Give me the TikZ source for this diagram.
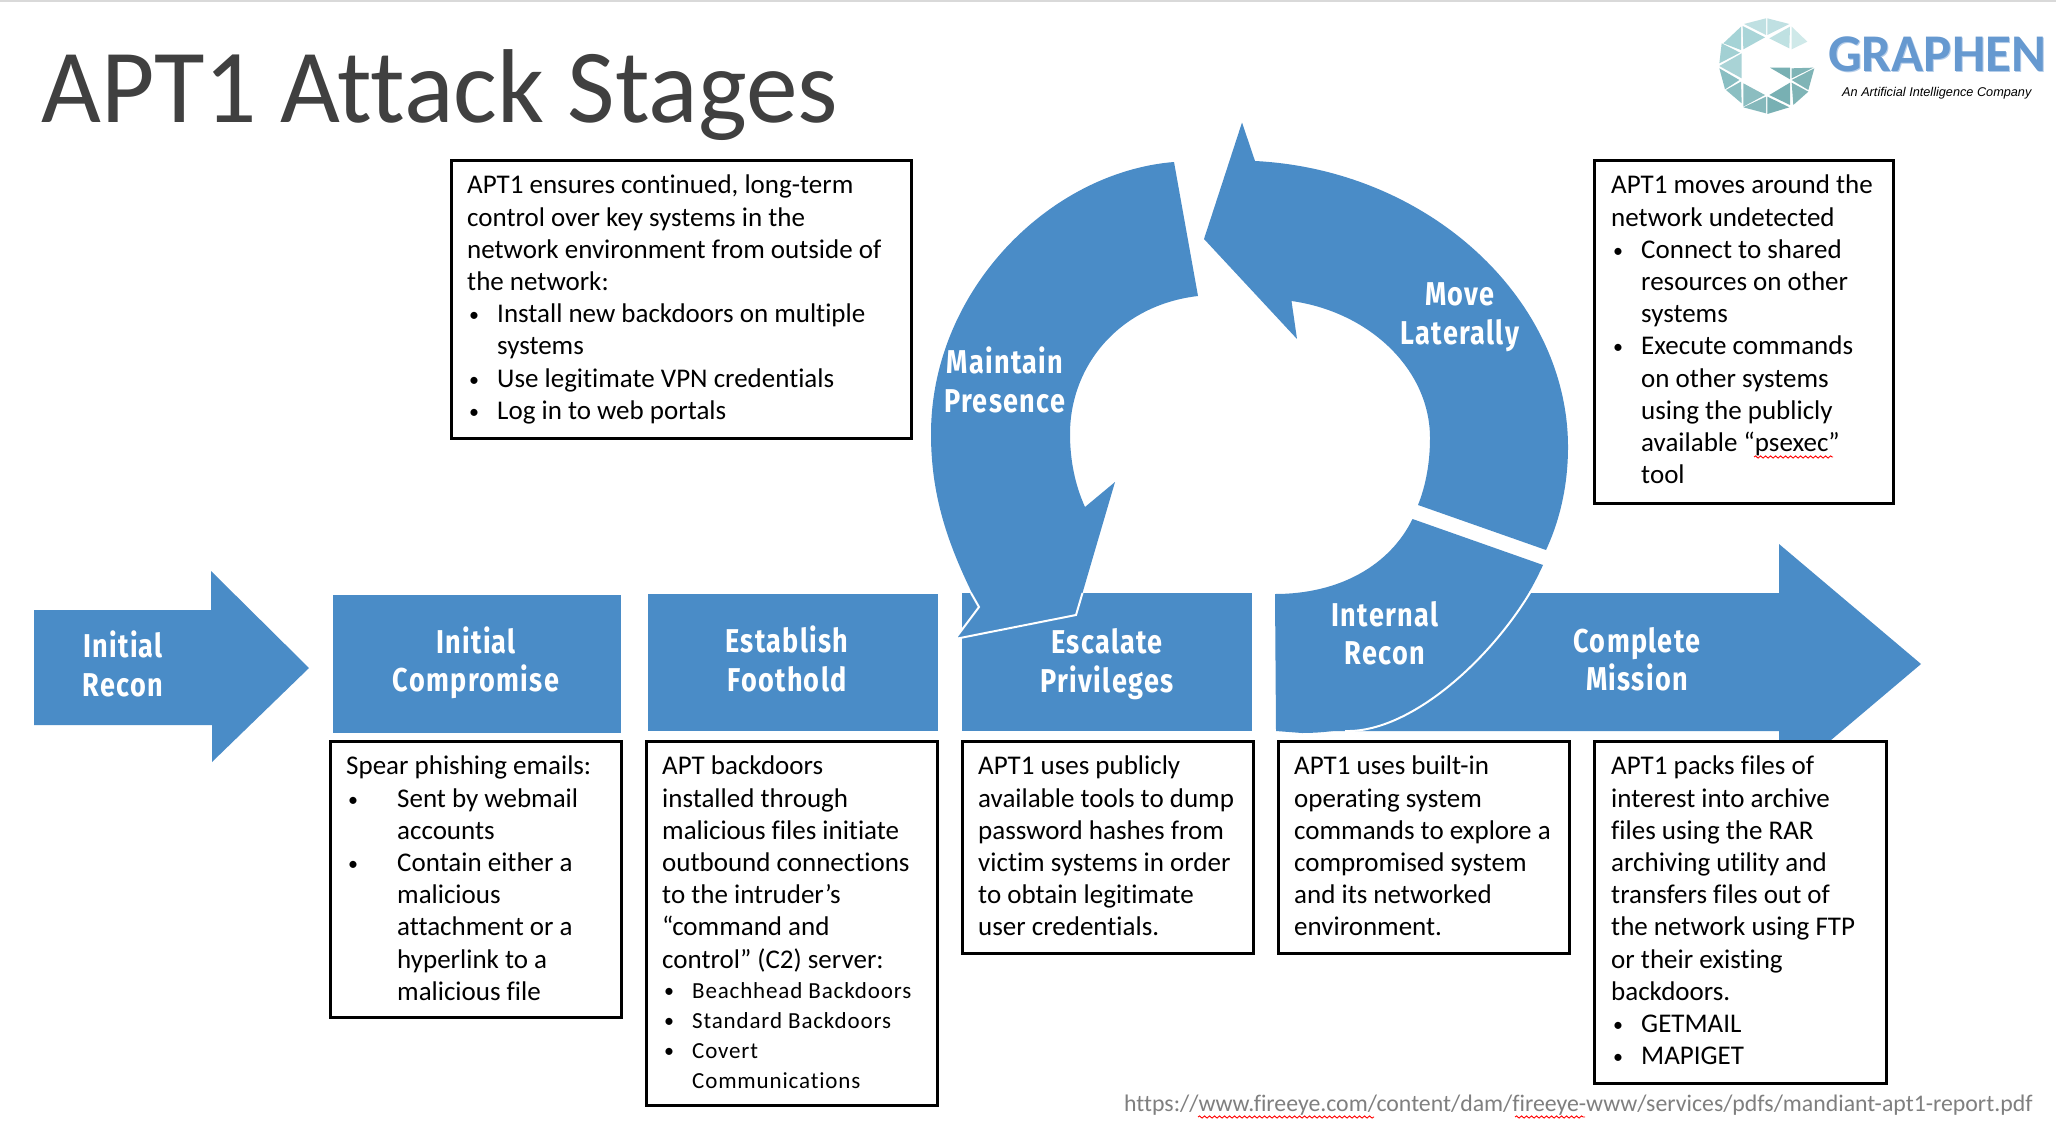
\documentclass[tikz,border=0pt]{standalone}
\usepackage{fontspec}
\usetikzlibrary{decorations.pathmorphing}
\setmainfont[Ligatures=NoCommon]{Carlito}
\newfontfamily\hdrfont[FakeStretch=0.82,LetterSpace=4]{Fira Sans}
\newfontfamily\spacedfont[LetterSpace=3.7,Ligatures=NoCommon]{Carlito}
\newfontfamily\titlefont[FakeStretch=0.985,Ligatures=NoCommon]{Carlito}
\newfontfamily\tagfont{Liberation Sans}
\definecolor{bluefill}{HTML}{4A8CC7}
\definecolor{titlegray}{HTML}{404040}
\definecolor{urlgray}{HTML}{7F7F7F}
\definecolor{logoblue}{HTML}{6699D0}
\definecolor{logoglow}{HTML}{B5CDE9}
\newcommand{\blt}[1][30]{\makebox[#1pt][l]{\hspace*{2pt}{\fontsize{20}{20}\selectfont\raisebox{1pt}{\textbullet}}}}
\newcommand{\ind}[1][30]{\hspace*{#1pt}}
\tikzset{
  plainblue/.style={fill=bluefill,draw=none},
  whiteedge/.style={draw=white,line width=2pt,line join=miter},
  hdr/.style={text=white,align=center,inner sep=0pt,font=\hdrfont\bfseries\fontsize{33}{38.5}\selectfont},
  infobox/.style={draw=black,fill=white,line width=3pt,anchor=north west,inner sep=0pt,outer sep=0pt},
  infotext/.style={anchor=north west,inner sep=0pt,align=left,text=black,font=\fontsize{27}{32.2}\selectfont},
  squig/.style={draw=red,line width=0.9pt,decorate,decoration={snake,amplitude=1.1pt,segment length=5pt}}
}
\begin{document}
\begin{tikzpicture}[x=1pt,y=-1pt]
\useasboundingbox (0,0) rectangle (2056,1124);
\fill[white] (0,0) rectangle (2056,1124);
\fill[black!15] (0,0) rectangle (2056,2);
% title
\node[anchor=base west,inner sep=0pt,text=titlegray,font=\titlefont\fontsize{105}{116}\selectfont] (title) at (41,122) {APT1 Attack Stages};
% logo
\begin{scope}[shift={(1680,0)},x=0.3333pt,y=-0.3333pt]
\foreach \c/\p in {
 BFE0E2/{(192,72)--(258,55)--(258,105)},
 BFE0E2/{(262,55)--(328,72)--(262,105)},
 BFE1E2/{(330,80)--(268,115)--(328,145)},
 CFE9E9/{(335,80)--(382,125)--(335,148)},
 A9D5D8/{(188,78)--(255,112)--(190,148)},
 A5D3D6/{(183,80)--(130,130)--(183,150)},
 A2D0D3/{(125,130)--(180,158)--(118,190)},
 A9D3D6/{(118,198)--(185,160)--(185,235)},
 89BEC2/{(118,205)--(178,240)--(135,268)},
 8BBFC2/{(138,270)--(183,245)--(185,310)},
 8BBDC0/{(190,250)--(255,285)--(190,320)},
 85B8BB/{(190,322)--(258,290)--(258,340)},
 78B0B3/{(262,290)--(328,322)--(262,342)},
 78B0B3/{(268,285)--(330,248)--(330,315)},
 7FB4B6/{(335,248)--(385,275)--(340,315)},
 7FB4B6/{(335,240)--(403,205)--(385,270)},
 7FB4B6/{(335,205)--(400,203)--(335,235)},
 78B0B3/{(270,203)--(330,203)--(330,238)}}{
  \definecolor{tc}{HTML}{\c}
  \fill[tc] \p --cycle;
}
\end{scope}
\node[anchor=base west,inner sep=0pt,text=logoglow,font=\bfseries\fontsize{53}{53}\selectfont] (graphenglow) at (1829,73) {GRAPHEN};
\node[anchor=base west,inner sep=0pt,text=logoblue,font=\bfseries\fontsize{53}{53}\selectfont] (graphen) at (1828,72) {GRAPHEN};
\node[anchor=base west,inner sep=0pt,text=black,font=\tagfont\itshape\fontsize{12.7}{16}\selectfont] (tagline) at (1842,96) {An Artificial Intelligence Company};
% stage shapes
\fill[plainblue] (34,610) -- (211,610) -- (211,571) -- (309,668) -- (212,762) -- (212,725) -- (34,725) -- cycle;
\node[plainblue,anchor=north west,minimum width=288pt,minimum height=138pt,inner sep=0pt] (rcomp) at (333,595) {};
\node[plainblue,anchor=north west,minimum width=290pt,minimum height=137pt,inner sep=0pt] (rfoot) at (648,594) {};
\node[plainblue,anchor=north west,minimum width=290pt,minimum height=138pt,inner sep=0pt] (resc) at (962,593) {};
% complete mission arrow
\fill[plainblue] (1300,593) -- (1779,593) -- (1779,544) -- (1921,664) -- (1779,784) -- (1779,731) -- (1300,731) -- cycle;
% internal recon
\fill[plainblue] (1275,594) .. controls (1340,594) and (1390,565) .. (1412.5,519) -- (1543,565) .. controls (1500,660) and (1410,733) .. (1302,733) -- (1276,731) -- cycle;
\draw[whiteedge] (1531,591) .. controls (1490,660) and (1410,733) .. (1345,731);
% maintain presence
\fill[plainblue] (1174,162) .. controls (1050,172) and (931,290) .. (931,434) .. controls (931,500) and (950,550) .. (979,607) -- (955,639) -- (1076,615) -- (1115,482) -- (1085,507) .. controls (1075,485) and (1070,460) .. (1070,434) .. controls (1070,365) and (1120,305) .. (1198,296) -- cycle;
\draw[whiteedge] (971,593) -- (979,607) -- (955,639) -- (1076,615) -- (1082.5,593);
% move laterally
\fill[plainblue] (1242,122.5) -- (1255,161) .. controls (1430,170) and (1568,300) .. (1568,447) .. controls (1568,485) and (1560,520) .. (1546,550) -- (1418,505) .. controls (1426,485) and (1430,462) .. (1430,438) .. controls (1430,370) and (1370,312) .. (1291.5,301) -- (1297,339) -- (1204,239) -- cycle;
% headers
\node[hdr] (hrecon) at (123,664) {Initial\\Recon};
\node[hdr] (hcomp) at (476,663) {Initial\\Compromise};
\node[hdr] (hfoot) at (787,659) {Establish\\Foothold};
\node[hdr] (hesc) at (1107,664) {Escalate\\Privileges};
\node[hdr] (hint) at (1385,633) {Internal\\Recon};
\node[hdr] (hmis) at (1637,659) {Complete\\Mission};
\node[hdr] (hmov) at (1460,317) {Move\\Laterally};
\node[hdr] (hmai) at (1005,380) {Maintain\\Presence};
% boxes
\node[infobox,minimum width=460pt,minimum height=278pt] (btop1) at (451,160) {};
\node[infobox,minimum width=299pt,minimum height=343pt] (btop2) at (1594,160) {};
\node[infobox,minimum width=291pt,minimum height=276pt] (b1) at (330,741) {};
\node[infobox,minimum width=291pt,minimum height=364pt] (b2) at (646,741) {};
\node[infobox,minimum width=291pt,minimum height=212pt] (b3) at (962,741) {};
\node[infobox,minimum width=291pt,minimum height=212pt] (b4) at (1278,741) {};
\node[infobox,minimum width=292pt,minimum height=342pt] (b5) at (1594,741) {};
\node[infotext] (ttop1) at (467,175) {APT1 ensures continued, long-term\\control over key systems in the\\network environment from outside of\\the network:\\\blt Install new backdoors on multiple\\\ind systems\\\blt Use legitimate VPN credentials\\\blt Log in to web portals};
\node[infotext] (ttop2) at (1611,175) {APT1 moves around the\\network undetected\\\blt Connect to shared\\\ind resources on other\\\ind systems\\\blt Execute commands\\\ind on other systems\\\ind using the publicly\\\ind available “psexec”\\\ind tool};
\node[infotext] (t1) at (346,756) {Spear phishing emails:\\\blt[51]Sent by webmail\\\ind[51]accounts\\\blt[51]Contain either a\\\ind[51]malicious\\\ind[51]attachment or a\\\ind[51]hyperlink to a\\\ind[51]malicious file};
\node[infotext] (t2) at (662,756) {APT backdoors\\installed through\\malicious files initiate\\outbound connections\\to the intruder’s\\“command and\\control” (C2) server:};
\node[infotext,font=\spacedfont\fontsize{23}{30}\selectfont] (t2b) at (662,982) {\blt Beachhead Backdoors\\\blt Standard Backdoors\\\blt Covert\\\ind Communications};
\node[infotext] (t3) at (978,756) {APT1 uses publicly\\available tools to dump\\password hashes from\\victim systems in order\\to obtain legitimate\\user credentials.};
\node[infotext] (t4) at (1294,756) {APT1 uses built-in\\operating system\\commands to explore a\\compromised system\\and its networked\\environment.};
\node[infotext] (t5) at (1611,756) {APT1 packs files of\\interest into archive\\files using the RAR\\archiving utility and\\transfers files out of\\the network using FTP\\or their existing\\backdoors.\\\blt GETMAIL\\\blt MAPIGET};
% url
\node[anchor=base west,inner sep=0pt,text=urlgray,font=\fontsize{23.8}{28}\selectfont] (url) at (1124,1111) {https://www.fireeye.com/content/dam/fireeye-www/services/pdfs/mandiant-apt1-report.pdf};
\coordinate (sq1a) at (1754,457); \coordinate (sq1b) at (1833,457);
\coordinate (sq2a) at (1198,1117); \coordinate (sq2b) at (1374,1117);
\coordinate (sq3a) at (1515,1117); \coordinate (sq3b) at (1585,1117);
\draw[squig] (sq1a) -- (sq1b);
\draw[squig] (sq2a) -- (sq2b);
\draw[squig] (sq3a) -- (sq3b);
\end{tikzpicture}
\end{document}
